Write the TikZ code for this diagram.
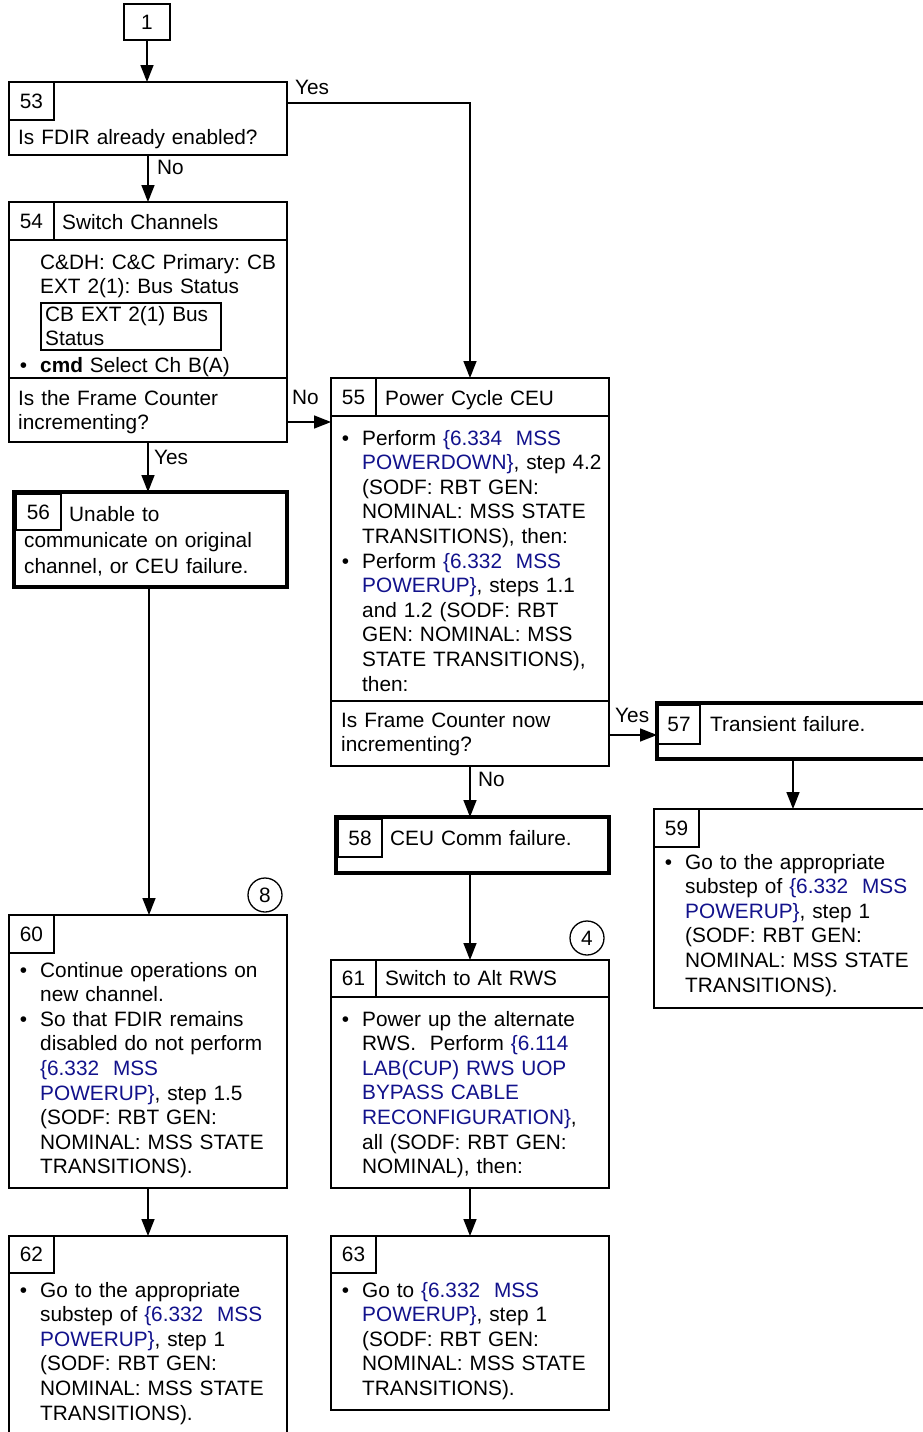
\documentclass[tikz,border=0pt]{standalone}
\usepackage{fontspec}
\setmainfont{Liberation Sans}
\usetikzlibrary{arrows.meta}
\definecolor{linkblue}{RGB}{18,18,140}
\newcommand\lnk[1]{\textcolor{linkblue}{#1}}
\newcommand\bul{\leavevmode\llap{\textbullet\hspace{13pt}}}
\frenchspacing
\begin{document}
\begin{tikzpicture}[x=1pt,y=-1pt,
    box/.style={draw, line width=1.8pt, inner sep=0pt, outer sep=0pt, anchor=north west},
    thickbox/.style={box, line width=4.5pt},
    cell/.style={draw, line width=1.3pt, inner sep=0pt, outer sep=0pt, anchor=north west,
      minimum width=45pt, minimum height=38pt, font=\fontsize{20.8}{24.6}\selectfont},
    txt/.style={inner sep=0pt, anchor=base west, text width=262pt, align=left,
      font=\fontsize{20.8}{24.6}\selectfont\frenchspacing},
    lbl/.style={inner sep=0pt, anchor=base west, font=\fontsize{20.8}{24.6}\selectfont},
    circ/.style={draw, circle, line width=1.3pt, inner sep=0pt, minimum size=34pt,
      font=\fontsize{20.8}{24.6}\selectfont},
    thinl/.style={line width=1.5pt},
    arr/.style={line width=1.5pt, -{Triangle[length=17pt,width=13pt]}}]
    \useasboundingbox[fill=white] (0,0) rectangle (922,1432);

    % start
    \node[cell, minimum width=46pt, minimum height=36pt] (b1) at (124,4) {1};

    % 53
    \node[box, minimum width=278pt, minimum height=73pt] (b53) at (9,82) {};
    \node[cell] (n53) at (9,82) {53};
    \node[txt] (t53) at (18,144) {Is FDIR already enabled?};

    % 54
    \node[box, minimum width=278pt, minimum height=240pt] (b54) at (9,202) {};
    \node[cell] (n54) at (9,202) {54};
    \draw[thinl] (9,240) -- (287,240);
    \node[txt] (h54) at (62,229) {Switch Channels};
    \node[txt] (t54) at (40,269) {C\&DH: C\&C Primary: CB\\EXT 2(1): Bus Status};
    \node[draw, line width=1.5pt, anchor=north west, inner sep=0pt,
      minimum width=180pt, minimum height=47pt] (s54) at (40,302) {};
    \node[txt] (u54) at (45,321) {CB EXT 2(1) Bus\\Status};
    \node[txt] (c54) at (40,372) {\bul\textbf{cmd} Select Ch B(A)};
    \draw[thinl] (9,378) -- (287,378);
    \node[txt] (q54) at (18,405) {Is the Frame Counter\\incrementing?};

    % 55
    \node[box, minimum width=278pt, minimum height=388pt] (b55) at (331,378) {};
    \node[cell] (n55) at (331,378) {55};
    \draw[thinl] (331,416) -- (609,416);
    \node[txt] (h55) at (385,405) {Power Cycle CEU};
    \node[txt] (t55) at (362,445) {\bul Perform \lnk{\{6.334~~MSS}\\\lnk{POWERDOWN\}}, step 4.2\\(SODF: RBT GEN:\\NOMINAL: MSS STATE\\TRANSITIONS), then:\\\bul Perform \lnk{\{6.332~~MSS}\\\lnk{POWERUP\}}, steps 1.1\\and 1.2 (SODF: RBT\\GEN: NOMINAL: MSS\\STATE TRANSITIONS),\\then:};
    \draw[thinl] (331,701) -- (609,701);
    \node[txt] (q55) at (341,727) {Is Frame Counter now\\incrementing?};

    % 56
    \node[thickbox, minimum width=273pt, minimum height=95pt] (b56) at (14,492) {};
    \node[cell, minimum height=36pt] (n56) at (16,494) {56};
    \node[txt, font=\fontsize{20.8}{26}\selectfont] (t56) at (24,521) {\hspace*{45pt}Unable to\\communicate on original\\channel, or CEU failure.};

    % 57
    \node[thickbox, minimum width=280pt, minimum height=56pt] (b57) at (657,703) {};
    \node[cell, minimum width=42pt, minimum height=39pt] (n57) at (658,705) {57};
    \node[txt] (t57) at (710,731) {Transient failure.};

    % 58
    \node[thickbox, minimum width=273pt, minimum height=56pt] (b58) at (336,817) {};
    \node[cell, minimum width=44pt] (n58) at (338,819) {58};
    \node[txt] (t58) at (390,845) {CEU Comm failure.};

    % 59
    \node[box, minimum width=272pt, minimum height=199pt] (b59) at (654,809) {};
    \node[cell] (n59) at (654,809) {59};
    \node[txt] (t59) at (685,869) {\bul Go to the appropriate\\substep of \lnk{\{6.332~~MSS}\\\lnk{POWERUP\}}, step 1\\(SODF: RBT GEN:\\NOMINAL: MSS STATE\\TRANSITIONS).};

    % 60
    \node[box, minimum width=278pt, minimum height=273pt] (b60) at (9,915) {};
    \node[cell] (n60) at (9,915) {60};
    \node[circ] (c8) at (265,895) {8};
    \node[txt] (t60) at (40,977) {\bul Continue operations on\\new channel.\\\bul So that FDIR remains\\disabled do not perform\\\lnk{\{6.332~~MSS}\\\lnk{POWERUP\}}, step 1.5\\(SODF: RBT GEN:\\NOMINAL: MSS STATE\\TRANSITIONS).};

    % 61
    \node[box, minimum width=278pt, minimum height=228pt] (b61) at (331,960) {};
    \node[cell, minimum height=37pt] (n61) at (331,960) {61};
    \draw[thinl] (331,997) -- (609,997);
    \node[txt] (h61) at (385,985) {Switch to Alt RWS};
    \node[circ] (c4) at (587,938) {4};
    \node[txt] (t61) at (362,1026) {\bul Power up the alternate\\RWS.~~Perform \lnk{\{6.114}\\\lnk{LAB(CUP) RWS UOP}\\\lnk{BYPASS CABLE}\\\lnk{RECONFIGURATION\}},\\all (SODF: RBT GEN:\\NOMINAL), then:};

    % 62
    \node[box, minimum width=278pt, minimum height=200pt] (b62) at (9,1236) {};
    \node[cell, minimum height=37pt] (n62) at (9,1236) {62};
    \node[txt] (t62) at (40,1297) {\bul Go to the appropriate\\substep of \lnk{\{6.332~~MSS}\\\lnk{POWERUP\}}, step 1\\(SODF: RBT GEN:\\NOMINAL: MSS STATE\\TRANSITIONS).};

    % 63
    \node[box, minimum width=278pt, minimum height=174pt] (b63) at (331,1236) {};
    \node[cell, minimum height=37pt] (n63) at (331,1236) {63};
    \node[txt] (t63) at (362,1297) {\bul Go to \lnk{\{6.332~~MSS}\\\lnk{POWERUP\}}, step 1\\(SODF: RBT GEN:\\NOMINAL: MSS STATE\\TRANSITIONS).};

    % connectors
    \coordinate (y53) at (287,103);
    \coordinate (no54) at (287,422);
    \coordinate (yes55) at (609,735);
    \coordinate (a57) at (793,759);
    \coordinate (a56) at (149,587);
    \coordinate (a58) at (470,873);
    \draw[arr] (b1.south) -- (b1.south |- b53.north);
    \draw[arr] (b53.south) -- (b54.north);
    \draw[arr] (y53) -| (b55.north);
    \draw[arr] (no54) -- (no54 -| b55.west);
    \draw[arr] (b54.south) -- (b54.south |- b56.north);
    \draw[arr] (a56) -- (a56 |- b60.north);
    \draw[arr] (b60.south) -- (b62.north);
    \draw[arr] (yes55) -- (yes55 -| b57.west);
    \draw[arr] (a57) -- (a57 |- b59.north);
    \draw[arr] (b55.south) -- (b55.south |- b58.north);
    \draw[arr] (a58) -- (a58 |- b61.north);
    \draw[arr] (b61.south) -- (b63.north);

    % labels
    \node[lbl] (yes1) at (295,94) {Yes};
    \node[lbl] (no1) at (157,174) {No};
    \node[lbl] (no2) at (292,404) {No};
    \node[lbl] (yes2) at (154,464) {Yes};
    \node[lbl] (yes3) at (615,722) {Yes};
    \node[lbl] (no3) at (478,786) {No};
\end{tikzpicture}
\end{document}
